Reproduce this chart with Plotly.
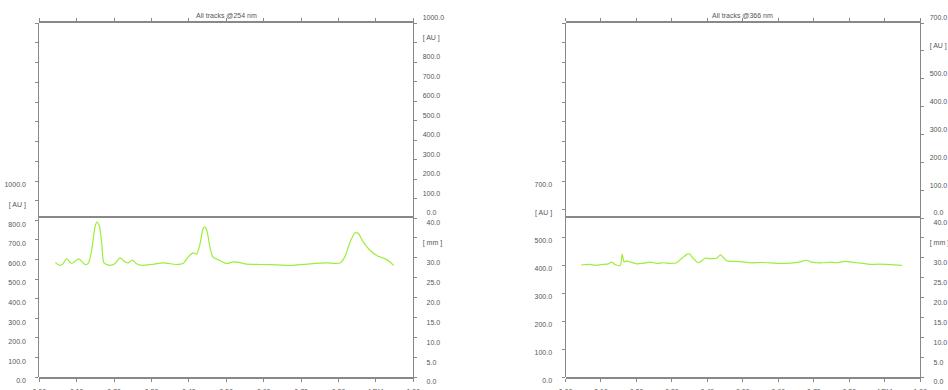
import plotly.graph_objects as go

# ---------------- data ----------------
rf_254 = [0.043, 0.053, 0.062, 0.073, 0.086, 0.106, 0.122, 0.131, 0.140, 0.149, 0.154, 0.160,
          0.167, 0.173, 0.189, 0.202, 0.216, 0.227, 0.238, 0.249, 0.260, 0.274, 0.300, 0.332,
          0.367, 0.385, 0.398, 0.412, 0.421, 0.430, 0.438, 0.443, 0.449, 0.456, 0.464, 0.483,
          0.501, 0.519, 0.537, 0.550, 0.590, 0.635, 0.679, 0.724, 0.768, 0.804, 0.817, 0.831,
          0.844, 0.853, 0.866, 0.884, 0.906, 0.924, 0.938, 0.947]
au_254 = [585, 570, 575, 604, 579, 603, 574, 580, 647, 766, 790, 774,
          681, 582, 570, 578, 608, 591, 582, 596, 578, 570, 574, 582,
          574, 580, 613, 633, 627, 681, 757, 766, 740, 664, 613, 594,
          579, 587, 584, 577, 574, 572, 570, 577, 582, 582, 613, 689,
          735, 732, 689, 647, 616, 604, 587, 569]

rf_366 = [0.044, 0.069, 0.083, 0.107, 0.121, 0.130, 0.140, 0.154, 0.160, 0.165, 0.172, 0.182,
          0.201, 0.219, 0.238, 0.257, 0.276, 0.295, 0.313, 0.328, 0.342, 0.349, 0.360, 0.374,
          0.384, 0.393, 0.407, 0.426, 0.437, 0.454, 0.482, 0.520, 0.557, 0.595, 0.633, 0.661,
          0.680, 0.694, 0.727, 0.745, 0.765, 0.788, 0.821, 0.849, 0.858, 0.886, 0.905, 0.948]
au_366 = [400, 402, 399, 402, 404, 410, 402, 398, 439, 411, 415, 411,
          404, 406, 410, 406, 408, 406, 408, 424, 438, 440, 424, 408,
          415, 424, 423, 424, 436, 415, 413, 408, 409, 406, 407, 411,
          417, 410, 408, 410, 408, 413, 408, 404, 402, 403, 402, 399]

titles = ["All tracks @254 nm", "All tracks @366 nm"]
au_max = [1000, 700]            # top of the AU scales
au_unit_pos = [900, 600]        # where "[ AU ]" replaces a tick label
mm_vals = [0, 5, 10, 15, 20, 25, 30, 35, 40]
rf_vals = [0.0, 0.1, 0.2, 0.3, 0.4, 0.5, 0.6, 0.7, 0.8, 0.9, 1.0]
rf_text = ["0.00", "0.10", "0.20", "0.30", "0.40", "0.50", "0.60", "0.70", "0.80", "[ Rf ]", "1.00"]

# ---------------- styling / layout ----------------
W, H = 948, 390
B = 13
PH = H - B
def py(y):
    return (PH - y) / PH

x_domains = [[39.3 / W, 413.3 / W], [565.5 / W, 920.3 / W]]
Y_SEP, Y_TOP, Y_AUTOP = 218, 23, 181

GRAY = "#888888"
TXT = "#555555"
FONT = dict(family="Liberation Sans, Arial, sans-serif", size=7, color=TXT)
LINE_CLR = "#9cee3a"
FS = "\u2007"

def lab(v, dec=1):
    return f"{v:.{dec}f}"

def right_lab(v):
    s = lab(v)
    if len(s) <= 4:
        s = FS + s
    return s

def xn(i): return "x" if i == 1 else f"x{i}"
def yn(i): return "y" if i == 1 else f"y{i}"
def xk(i): return "xaxis" if i == 1 else f"xaxis{i}"
def yk(i): return "yaxis" if i == 1 else f"yaxis{i}"

fig = go.Figure()
layout = dict(width=W, height=H,
              margin=dict(l=0, r=0, t=0, b=B, pad=0, autoexpand=False),
              paper_bgcolor="white", plot_bgcolor="rgba(0,0,0,0)", showlegend=False,
              font=FONT, annotations=[])

series = [(rf_254, au_254), (rf_366, au_366)]
for p in range(2):
    xb = 2 * p + 1          # bottom x axis
    xt = 2 * p + 2          # top x axis
    ya = 4 * p + 1          # left AU
    ym = 4 * p + 2          # right mm
    yu = 4 * p + 3          # right upper AU
    yl = 4 * p + 4          # left upper ticks

    rf, au = series[p]
    fig.add_trace(go.Scatter(x=rf, y=au, mode="lines", xaxis=xn(xb), yaxis=yn(ya),
                             line=dict(color=LINE_CLR, width=1.2, shape="spline", smoothing=0.7),
                             hoverinfo="skip"))
    # empty traces so that every frame axis is instantiated
    for xa, yax in [(xb, ym), (xt, yu), (xb, yu), (xb, yl)]:
        fig.add_trace(go.Scatter(x=[], y=[], mode="lines", xaxis=xn(xa), yaxis=yn(yax),
                                 hoverinfo="skip"))

    common_tick = dict(ticks="outside", ticklen=3, tickcolor=GRAY, tickwidth=1,
                       showgrid=False, zeroline=False, tickfont=FONT, automargin=False)
    layout[xk(xb)] = dict(domain=x_domains[p], range=[0, 1], anchor=yn(ym),
                          showline=True, linecolor=GRAY, linewidth=1.6, mirror=True,
                          tickvals=rf_vals, ticktext=rf_text, ticklabelstandoff=4,
                          **common_tick)
    layout[xk(xt)] = dict(domain=x_domains[p], range=[0, 1], anchor=yn(yu), side="top",
                          showline=True, linecolor=GRAY, linewidth=1.6,
                          tickvals=rf_vals, showticklabels=False, **common_tick)

    amax = au_max[p]
    au_vals = list(range(0, amax + 1, 100))
    au_text_left = ["[ AU ]" if v == au_unit_pos[p] else lab(v) for v in au_vals]
    au_text_right = ["[ AU ]" if v == au_unit_pos[p] else right_lab(v) for v in au_vals]

    layout[yk(ya)] = dict(domain=[0, py(Y_AUTOP)], range=[0, amax], anchor=xn(xb), side="left",
                          showline=True, linecolor=GRAY, linewidth=1,
                          tickvals=au_vals, ticktext=au_text_left,
                          ticklabelshift=4, ticklabelstandoff=8, **common_tick)
    layout[yk(yl)] = dict(domain=[py(Y_AUTOP), py(Y_TOP)], range=[0, 8], anchor=xn(xb), side="left",
                          showline=True, linecolor=GRAY, linewidth=1,
                          tickvals=list(range(0, 9)), showticklabels=False, **common_tick)
    layout[yk(ym)] = dict(domain=[0, py(Y_SEP)], range=[0, 40], anchor=xn(xb), side="right",
                          showline=True, linecolor=GRAY, linewidth=1,
                          tickvals=mm_vals,
                          ticktext=["[ mm ]" if v == 35 else right_lab(v) for v in mm_vals],
                          ticklabelshift=5, ticklabelstandoff=4, **common_tick)
    layout[yk(yu)] = dict(domain=[py(Y_SEP), py(Y_TOP)], range=[0, amax], anchor=xn(xb), side="right",
                          showline=True, linecolor=GRAY, linewidth=1,
                          tickvals=au_vals, ticktext=au_text_right,
                          ticklabelshift=-5, ticklabelstandoff=4, **common_tick)

    layout["annotations"].append(dict(text=titles[p], xref=f"{xn(xb)} domain", x=0.5,
                                      yref="paper", y=py(15), showarrow=False,
                                      xanchor="center", yanchor="middle", font=FONT))

fig.update_layout(**layout)
fig.write_html("out.html",
               config={"displayModeBar": False},
               post_script="document.body.style.margin='0px';document.body.style.overflow='hidden';")
